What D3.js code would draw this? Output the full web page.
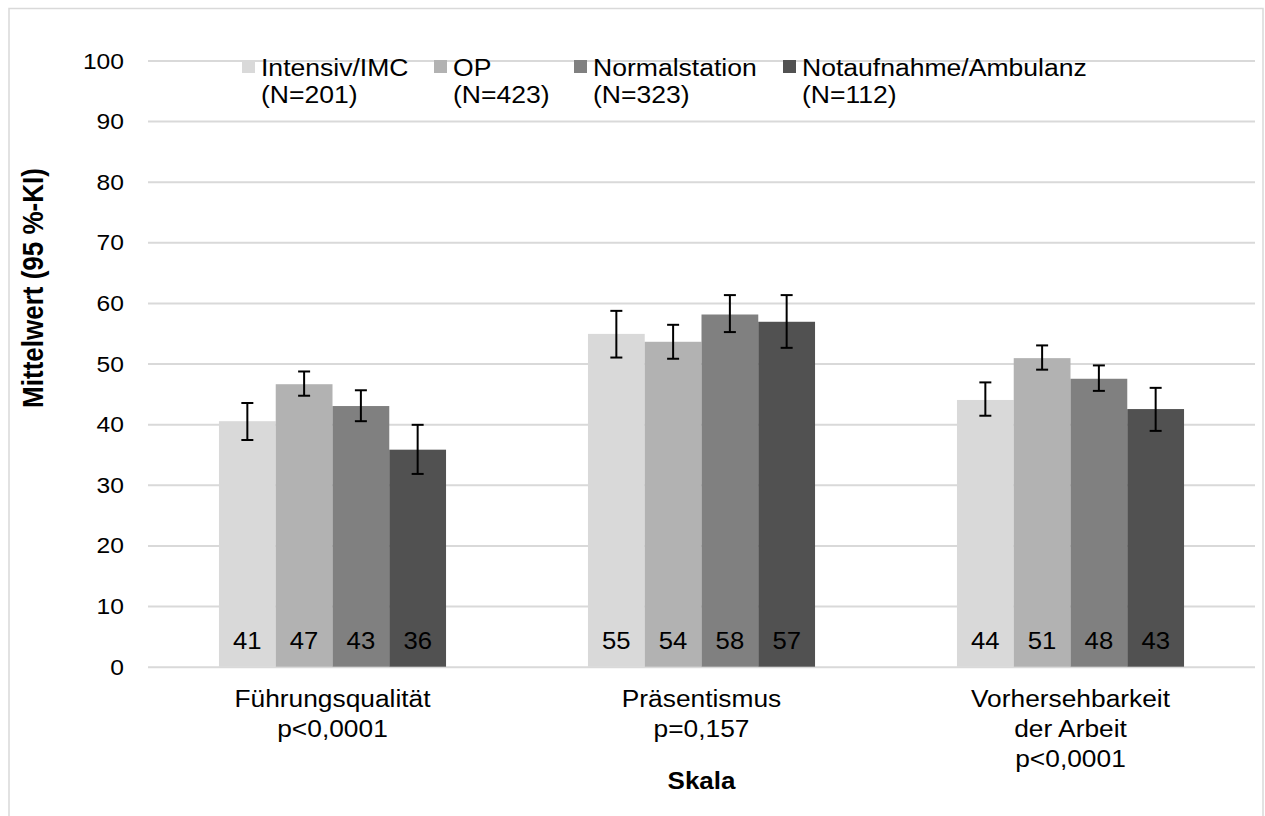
<!DOCTYPE html>
<html>
<head>
<meta charset="utf-8">
<script src="https://cdn.jsdelivr.net/npm/d3@7"></script>
<style>
  body { margin: 0; background: #fff; }
  text { font-family: Arial, "Liberation Sans", sans-serif; fill: #000; }
</style>
</head>
<body>
<div id="chart"></div>
<script>
// chart data
var categories = [
    ["Führungsqualität", "p<0,0001"],
    ["Präsentismus", "p=0,157"],
    ["Vorhersehbarkeit", "der Arbeit", "p<0,0001"]
];
var seriesNames = ["Intensiv/IMC", "OP", "Normalstation", "Notaufnahme/Ambulanz"];
var seriesN = ["(N=201)", "(N=423)", "(N=323)", "(N=112)"];
var means  = [[40.5, 46.6, 43.0, 35.8], [54.9, 53.6, 58.1, 56.9], [44.0, 50.9, 47.5, 42.5]];
var ciLow  = [[37.4, 44.7, 40.5, 31.8], [51.0, 50.8, 55.2, 52.6], [41.4, 49.0, 45.5, 38.9]];
var ciHigh = [[43.5, 48.7, 45.6, 39.9], [58.7, 56.4, 61.3, 61.3], [46.9, 53.0, 49.7, 46.0]];
var valueLabels = [[41, 47, 43, 36], [55, 54, 58, 57], [44, 51, 48, 43]];
var yTicks = [0, 10, 20, 30, 40, 50, 60, 70, 80, 90, 100];

var colors = ["#d9d9d9", "#b2b2b2", "#808080", "#515151"];
var grid = "#d9d9d9";

var width = 1265, height = 816;
var plot = {left: 148, right: 1255, top: 60.5, bottom: 666.7};
var legendX = [242, 434, 574, 783];
// the original picture is a bit wider than tall, text gets stretched the same way
var sx = 1.13;

var svg = d3.select("#chart").append("svg")
    .attr("width", width)
    .attr("height", height);

// outer frame
svg.append("rect")
    .attr("x", 9).attr("y", 8.5)
    .attr("width", 1254).attr("height", 820)
    .attr("fill", "none")
    .attr("stroke", grid)
    .attr("stroke-width", 1.5);

var x0 = d3.scaleBand()
    .domain(categories.map(function(c, i) { return i; }))
    .range([plot.left, plot.right]);

// excel gap width 250% -> inset of 1.25 bar widths on each side
var bw = x0.bandwidth() / 6.5;
var x1 = d3.scaleBand()
    .domain(seriesNames.map(function(s, i) { return i; }))
    .range([bw * 1.25, x0.bandwidth() - bw * 1.25]);

var y = d3.scaleLinear().domain([0, 100]).range([plot.bottom, plot.top]);

// y axis with gridlines
var yAxis = svg.append("g")
    .attr("transform", "translate(" + plot.left + ",0)")
    .call(d3.axisLeft(y).tickValues(yTicks).tickSize(-(plot.right - plot.left)).tickPadding(0));
yAxis.select(".domain").remove();
yAxis.selectAll(".tick line").attr("stroke", grid).attr("stroke-width", 2);
yAxis.selectAll(".tick text")
    .attr("x", null).attr("dy", null)
    .attr("font-size", 22)
    .attr("text-anchor", "end")
    .attr("dominant-baseline", "central")
    .attr("transform", "translate(-24,0) scale(1.12,1)");

// bars
var rows = [];
means.forEach(function(row, ci) {
    row.forEach(function(v, si) {
        rows.push({c: ci, s: si, v: v, lo: ciLow[ci][si], hi: ciHigh[ci][si], label: valueLabels[ci][si]});
    });
});

var bars = svg.append("g");
bars.selectAll("rect")
    .data(rows)
    .enter().append("rect")
    .attr("x", function(d) { return x0(d.c) + x1(d.s); })
    .attr("y", function(d) { return y(d.v); })
    .attr("width", x1.bandwidth())
    .attr("height", function(d) { return y(0) - y(d.v); })
    .attr("fill", function(d) { return colors[d.s]; });

// error bars
var err = svg.append("g").attr("stroke", "#000").attr("stroke-width", 2);
rows.forEach(function(d) {
    var cx = x0(d.c) + x1(d.s) + x1.bandwidth() / 2;
    err.append("line").attr("x1", cx).attr("x2", cx).attr("y1", y(d.hi)).attr("y2", y(d.lo));
    err.append("line").attr("x1", cx - 6).attr("x2", cx + 6).attr("y1", y(d.hi)).attr("y2", y(d.hi));
    err.append("line").attr("x1", cx - 6).attr("x2", cx + 6).attr("y1", y(d.lo)).attr("y2", y(d.lo));
});

// value labels inside bars
svg.append("g").selectAll("text")
    .data(rows)
    .enter().append("text")
    .attr("text-anchor", "middle")
    .attr("font-size", 24)
    .attr("transform", function(d) {
        return "translate(" + (x0(d.c) + x1(d.s) + x1.bandwidth() / 2) + "," + (y(0) - 18) + ") scale(1.07,1)";
    })
    .text(function(d) { return d.label; });

// category labels
var cat = svg.append("g");
categories.forEach(function(lines, ci) {
    var t = cat.append("text")
        .attr("text-anchor", "middle")
        .attr("font-size", 23.3)
        .attr("transform", "translate(" + (x0(ci) + x0.bandwidth() / 2) + ",707) scale(" + sx + ",1)");
    lines.forEach(function(l, i) {
        t.append("tspan")
            .attr("x", 0)
            .attr("dy", i === 0 ? 0 : 30)
            .text(l);
    });
});

// axis titles
svg.append("text")
    .attr("text-anchor", "middle")
    .attr("font-size", 23)
    .attr("font-weight", "bold")
    .attr("transform", "translate(" + ((plot.left + plot.right) / 2) + ",789) scale(" + sx + ",1)")
    .text("Skala");

svg.append("text")
    .attr("text-anchor", "middle")
    .attr("font-size", 26)
    .attr("font-weight", "bold")
    .attr("transform", "translate(43,288) rotate(-90) scale(1," + sx + ")")
    .text("Mittelwert (95 %-KI)");

// legend
var legend = svg.append("g");
seriesNames.forEach(function(name, i) {
    var lx = legendX[i];
    legend.append("rect")
        .attr("x", lx).attr("y", 60)
        .attr("width", 13).attr("height", 13)
        .attr("fill", colors[i]);
    legend.append("text")
        .attr("font-size", 23.5)
        .attr("transform", "translate(" + (lx + 19) + ",76) scale(" + sx + ",1)")
        .text(name);
    legend.append("text")
        .attr("font-size", 23.5)
        .attr("transform", "translate(" + (lx + 19) + ",103) scale(" + sx + ",1)")
        .text(seriesN[i]);
});
</script>
</body>
</html>
